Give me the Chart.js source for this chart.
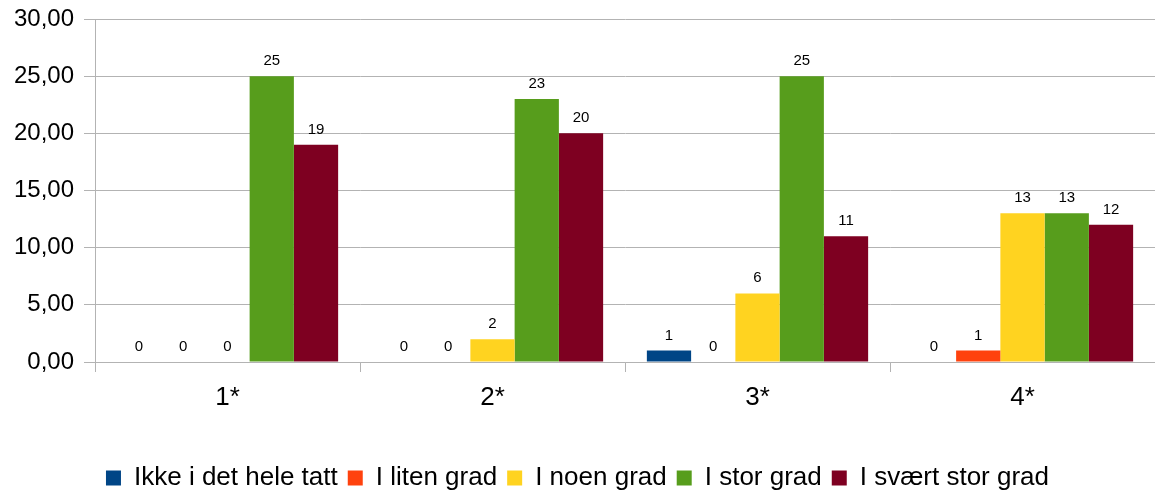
<!DOCTYPE html>
<html>
<head>
<meta charset="utf-8">
<script src="https://cdn.jsdelivr.net/npm/chart.js@4/dist/chart.umd.min.js"></script>
<style>
  html, body { margin: 0; padding: 0; background: #fff; }
  #wrap { width: 1155px; height: 491px; }
</style>
</head>
<body>
<div id="wrap"><canvas id="chart" width="1155" height="491"></canvas></div>
<script>
var categories = ["1*", "2*", "3*", "4*"];
var seriesNames = ["Ikke i det hele tatt", "I liten grad", "I noen grad", "I stor grad", "I svært stor grad"];
var ikkeValues = [0, 0, 1, 0];
var litenValues = [0, 0, 0, 1];
var noenValues = [0, 2, 6, 13];
var storValues = [25, 23, 25, 13];
var svaertValues = [19, 20, 11, 12];
var yTicks = [0, 5, 10, 15, 20, 25, 30];

var colors = ["#004586", "#ff420e", "#ffd320", "#579d1c", "#7e0021"];
var allValues = [ikkeValues, litenValues, noenValues, storValues, svaertValues];
var gridColor = "#b3b3b3";
var fontFamily = "'Liberation Sans', Arial, sans-serif";

function formatTick (value) {
    return value.toFixed(2).replace(".", ",");
}

// draws the number above every bar
var valueLabels = {
    id: "valueLabels",
    afterDatasetsDraw: function (chart) {
        let ctx = chart.ctx;
        ctx.save();
        ctx.font = "15px " + fontFamily;
        ctx.fillStyle = "#000";
        ctx.textAlign = "center";
        ctx.textBaseline = "alphabetic";
        chart.data.datasets.forEach(function (ds, i) {
            let meta = chart.getDatasetMeta(i);
            meta.data.forEach(function (bar, j) {
                ctx.fillText(String(ds.data[j]), bar.x, bar.y - 11);
            });
        });
        ctx.restore();
    }
};

var datasets = [];
for (let i = 0; i < seriesNames.length; i++) {
    datasets.push({
        label: seriesNames[i],
        data: allValues[i],
        backgroundColor: colors[i],
        borderWidth: 0,
        categoryPercentage: 0.835,
        barPercentage: 1.0
    });
}

var chart = new Chart(document.getElementById("chart").getContext("2d"), {
    type: "bar",
    data: {
        labels: categories,
        datasets: datasets
    },
    plugins: [valueLabels],
    options: {
        responsive: false,
        animation: false,
        layout: {
            padding: { top: 19, right: 0, bottom: -10, left: 0 }
        },
        plugins: {
            tooltip: { enabled: false },
            legend: {
                position: "bottom",
                labels: {
                    color: "#000",
                    font: { family: fontFamily, size: 26 },
                    boxWidth: 15,
                    boxHeight: 15,
                    padding: 10
                }
            }
        },
        scales: {
            x: {
                afterFit: function (scale) { scale.height = 93; },
                grid: {
                    drawOnChartArea: false,
                    drawTicks: true,
                    tickLength: 10,
                    color: gridColor,
                    offset: true
                },
                border: { color: gridColor, width: 1 },
                ticks: {
                    color: "#000",
                    padding: 10,
                    font: { family: fontFamily, size: 26 }
                }
            },
            y: {
                min: 0,
                max: 30,
                afterFit: function (scale) {
                    scale.width = 95;
                    scale.paddingTop = 0;
                    scale.paddingBottom = 0;
                },
                afterBuildTicks: function (scale) {
                    scale.ticks = yTicks.map(function (v) { return { value: v }; });
                },
                grid: {
                    color: gridColor,
                    tickLength: 11,
                    drawTicks: true
                },
                border: { color: gridColor, width: 1 },
                ticks: {
                    color: "#000",
                    padding: 10,
                    font: { family: fontFamily, size: 24 },
                    callback: function (value) { return formatTick(value); }
                }
            }
        }
    }
});
</script>
</body>
</html>
